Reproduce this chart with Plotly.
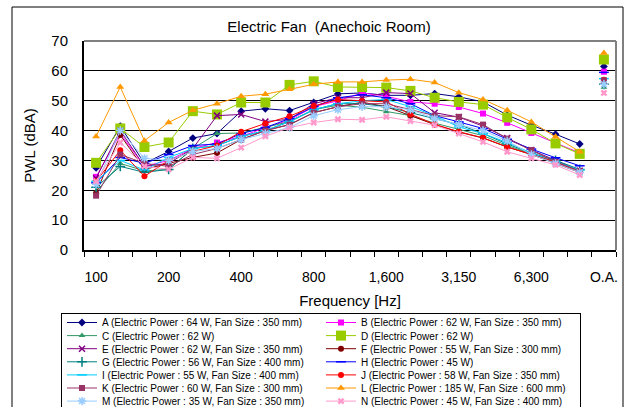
import plotly.graph_objects as go

FREQ = ["100", "125", "160", "200", "250", "315", "400", "500", "630", "800", "1000",
        "1250", "1600", "2000", "2500", "3150", "4000", "5000", "6300", "8000", "10000"]
OA_LABEL = "O.A."
TICK_LABELS = ["100", "200", "400", "800", "1,600", "3,150", "6,300", "O.A."]

NAMES = [
    "A (Electric Power : 64 W, Fan Size : 350 mm)",
    "B (Electric Power : 62 W, Fan Size : 350 mm)",
    "C (Electric Power : 62 W)",
    "D (Electric Power : 62 W)",
    "E (Electric Power : 62 W, Fan Size : 350 mm)",
    "F (Electric Power : 55 W, Fan Size : 300 mm)",
    "G (Electric Power : 56 W, Fan Size : 400 mm)",
    "H (Electric Power : 45 W)",
    "I (Electric Power : 55 W, Fan Size : 400 mm)",
    "J (Electric Power : 58 W, Fan Size : 350 mm)",
    "K (Electric Power : 60 W, Fan Size : 300 mm)",
    "L (Electric Power : 185 W, Fan Size : 600 mm)",
    "M (Electric Power : 35 W, Fan Size : 350 mm)",
    "N (Electric Power : 45 W, Fan Size : 400 mm)",
]

A = [27.5, 41.5, 29, 33, 37.5, 39, 46.5, 47.3, 46.7, 49.4, 52.3, 52.6, 51.8, 51.8, 52.4, 51.3, 49.6, 45.2, 41.8, 38.8, 35.5]
B = [24.5, 39, 28, 30, 34, 36, 38, 41, 43.5, 48, 50, 52.6, 51.5, 49.6, 49, 47.9, 45.7, 42.6, 39.2, 36, 32.5]
C = [19.5, 29, 26.5, 27, 34, 39, 39.2, 41, 43, 47, 48.5, 47.8, 46.3, 45, 42.5, 40.5, 38.3, 35, 32.3, 29.5, 26.5]
D = [29.2, 40.7, 34.5, 36, 46.5, 45.4, 49.4, 49.4, 55.3, 56.5, 54.6, 54.6, 54.4, 53.3, 51, 49.6, 48.7, 44.4, 40.4, 35.7, 32.2]
E = [24, 40, 28, 29, 34, 45, 45.4, 43, 43.8, 49, 51, 51, 52.7, 52.4, 46, 44.5, 41.5, 37.5, 33.5, 30, 26.5]
F = [19, 38.5, 27, 29, 31, 32.5, 37, 40, 42, 46, 48, 49.5, 48, 45, 42, 39.5, 37.5, 34.5, 32, 29, 26]
G = [21, 28, 26, 27, 34, 35, 38, 40, 43, 47, 49, 49, 48, 46, 44, 42, 39, 35.5, 32.5, 30, 27]
H = [22.5, 31, 29, 32, 35, 35.5, 39, 41, 44, 48, 51, 52, 51, 49, 45, 42.9, 40.7, 37.1, 33.8, 30.9, 28.2]
I = [23, 30, 26.8, 31, 34, 35, 38, 40, 43, 47, 49, 50, 50.4, 48, 45, 41.2, 39, 36, 32.5, 29.5, 26.8]
J = [23, 33.4, 24.7, 30, 33, 35, 39.6, 42.4, 44.8, 48.2, 50.4, 49.9, 49.6, 45.5, 42.1, 39.6, 37.6, 34.5, 32, 29.5, 26]
K = [18.2, 32, 29, 28, 32, 34, 37, 40, 42, 46, 48, 49, 49, 47, 45, 44.6, 42, 37.3, 33.5, 29.5, 26.5]
L = [38, 54.6, 36.6, 42.7, 46.8, 49, 51.5, 52.2, 53.8, 55.5, 56.3, 56.3, 56.9, 57.2, 56.1, 52.7, 50.4, 46.8, 42.9, 37.9, 32.9]
M = [22, 40, 30.7, 30, 33, 34, 37, 39, 41, 45, 47, 48, 48, 47, 44, 42, 40, 36.5, 32, 29, 26]
N = [23, 36, 28, 27, 31, 30.7, 34.3, 38.1, 41, 42.7, 43.8, 43.6, 44.6, 43.2, 41.8, 39, 36.2, 32.9, 30.7, 28.5, 25.1]
SERIES = [A, B, C, D, E, F, G, H, I, J, K, L, M, N]

OA = [61.5, 59.7, 54.5, 63.8, 56.5, 56, 55.5, 59.5, 57.4, 57, 56.8, 66, 55.5, 52.6]

COLORS = ["#000080", "#FF00FF", "#339966", "#99CC00", "#800080", "#800000", "#008080",
          "#0000FF", "#00CCFF", "#FF0000", "#993366", "#FF9900", "#99CCFF", "#FF99CC"]
SYMBOLS = ["diamond", "square", "triangle-up", "square", "x-thin-open", "circle", "cross-thin-open",
           "line-ew-open", "line-ew-open", "circle", "square", "triangle-up", "asterisk-open", "x"]
SIZES = [6, 6, 6, 10, 6, 6, 7, 7, 7, 6, 6, 7, 7, 6]

cats = FREQ + [OA_LABEL]
xpos = list(range(len(cats)))
band_x = xpos[:len(FREQ)]
oa_x = xpos[len(FREQ)]

fig = go.Figure()
for name, ys, col, sym, sz in zip(NAMES, SERIES, COLORS, SYMBOLS, SIZES):
    mline = dict(color=col, width=1.5) if ("open" in sym) else dict(width=0)
    fig.add_trace(go.Scatter(
        x=band_x, y=ys, name=name, mode="lines+markers",
        line=dict(color=col, width=1),
        marker=dict(symbol=sym, size=sz, color=col, line=mline),
    ))
for name, col, sym, sz, oa in zip(NAMES, COLORS, SYMBOLS, SIZES, OA):
    mline = dict(color=col, width=1.5) if ("open" in sym) else dict(width=0)
    fig.add_trace(go.Scatter(
        x=[oa_x], y=[oa], mode="markers", showlegend=False, name=name,
        marker=dict(symbol=sym, size=sz, color=col, line=mline),
    ))

L_PX, R_PX, T_PX, B_PX = 84, 12, 41, 157
W, Hh = 628, 407
pw = W - L_PX - R_PX
ph = Hh - T_PX - B_PX

tick_idx = [cats.index(c) for c in ["100", "200", "400", "800", "1600", "3150", "6300", OA_LABEL]]

fig.update_layout(
    width=W, height=Hh,
    margin=dict(l=L_PX, r=R_PX, t=T_PX, b=B_PX, autoexpand=False),
    paper_bgcolor="white", plot_bgcolor="white",
    font=dict(family="Liberation Sans, Arial, sans-serif", color="black"),
    title=dict(text="Electric Fan  (Anechoic Room)", x=(329 - L_PX) / pw, xanchor="center",
               xref="paper", y=1 - 27 / Hh, yanchor="middle", font=dict(size=15)),
    xaxis=dict(
        range=[-0.5, len(cats) - 0.5], tickmode="array", tickvals=tick_idx, ticktext=TICK_LABELS,
        ticks="", ticklabelstandoff=13, tickfont=dict(size=14),
        showgrid=False, zeroline=False, showline=True, linecolor="black", linewidth=2,
        minor=dict(tick0=-0.5, dtick=1, ticks="outside", ticklen=5, tickcolor="black", tickwidth=1, showgrid=False),
        title=dict(text="Frequency [Hz]", font=dict(size=15), standoff=12),
    ),
    yaxis=dict(
        range=[0, 70], dtick=10, ticks="", ticklabelstandoff=11, tickfont=dict(size=15),
        showgrid=True, gridcolor="black", gridwidth=1, zeroline=False,
        showline=True, linecolor="black", linewidth=2,
        title=dict(text="PWL (dBA)", font=dict(size=15), standoff=12),
    ),
    legend=dict(
        orientation="h", x=(61 - L_PX) / pw, xanchor="left", y=(ph + T_PX - 313) / ph, yanchor="top",
        entrywidth=214, entrywidthmode="pixels", bordercolor="black", borderwidth=1,
        font=dict(size=10), itemwidth=30, traceorder="normal",
    ),
    shapes=[
        dict(type="line", xref="paper", yref="paper", x0=0, x1=1, y0=1, y1=1,
             line=dict(color="#808080", width=2)),
        dict(type="line", xref="paper", yref="paper", x0=1, x1=1, y0=0, y1=1,
             line=dict(color="#808080", width=2)),
        dict(type="rect", xref="paper", yref="paper",
             x0=(12 - L_PX) / pw, x1=(623 - L_PX) / pw,
             y0=(ph + T_PX - 430) / ph, y1=(ph + T_PX - 7) / ph,
             line=dict(color="black", width=1)),
    ],
)

# Remove the page's default body margin, and tighten legend rows to the
# reference's spacing (~13 px per row instead of Plotly's 19 px minimum).
POST = r"""
document.body.style.margin = '0';
document.body.style.overflow = 'hidden';
var gd = document.getElementById('{plot_id}');
var re = /translate\(\s*([-\d.e]+)[\s,]+([-\d.e]+)\s*\)/;
var items = gd.querySelectorAll('g.legend g.traces');
var ys = [];
items.forEach(function(g){
  var m = re.exec(g.getAttribute('transform') || '');
  if (m) { ys.push(parseFloat(m[2])); }
});
if (ys.length) {
  var y0 = Math.min.apply(null, ys);
  items.forEach(function(g){
    var m = re.exec(g.getAttribute('transform') || '');
    if (m) {
      var x = parseFloat(m[1]), y = parseFloat(m[2]);
      g.setAttribute('transform', 'translate(' + x + ',' + (y0 - 6 + (y - y0) * 13.1 / 19) + ')');
    }
  });
}
"""

fig.write_html("out.html", post_script=POST, config={"displayModeBar": False})
